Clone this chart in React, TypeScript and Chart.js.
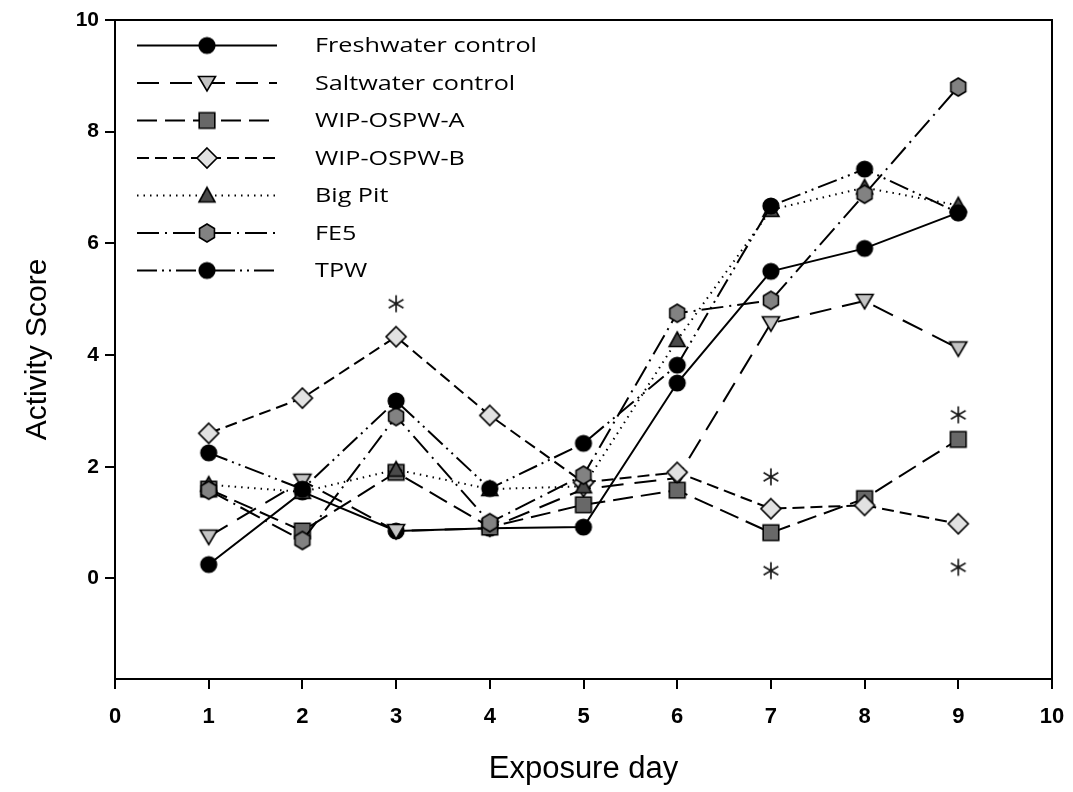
import React, { useEffect, useRef } from "react";
import { Chart, registerables } from "chart.js";

Chart.register(...registerables);

const days = [1, 2, 3, 4, 5, 6, 7, 8, 9];
const freshwater = [0.25, 1.55, 0.85, 0.9, 0.92, 3.5, 5.5, 5.91, 6.55];
const saltwater = [0.75, 1.75, 0.85, 0.9, 1.6, 1.8, 4.57, 4.97, 4.12];
const wipA = [1.6, 0.85, 1.9, 0.92, 1.32, 1.58, 0.82, 1.43, 2.49];
const wipB = [2.6, 3.23, 4.33, 2.92, 1.72, 1.9, 1.25, 1.31, 0.98];
const bigPit = [1.68, 1.55, 1.95, 1.6, 1.65, 4.27, 6.6, 7.0, 6.68];
const fe5 = [1.58, 0.68, 2.9, 1.0, 1.85, 4.75, 4.98, 6.88, 8.8];
const tpw = [2.25, 1.6, 3.18, 1.61, 2.42, 3.82, 6.67, 7.33, 6.55];

const seriesLabels = ["Freshwater control", "Saltwater control", "WIP-OSPW-A", "WIP-OSPW-B", "Big Pit", "FE5", "TPW"];

const asteriskDays = [3, 7, 7, 9, 9];
const asteriskValues = [4.92, 1.82, 0.14, 2.93, 0.2];

const xTicks = [0, 1, 2, 3, 4, 5, 6, 7, 8, 9, 10];
const yTicks = [0, 2, 4, 6, 8, 10];

function makeMarker(shape: string, fill: string): HTMLCanvasElement {
  const c = document.createElement("canvas");
  c.width = 24;
  c.height = 24;
  const ctx = c.getContext("2d")!;
  ctx.translate(12, 12);
  ctx.fillStyle = fill;
  ctx.strokeStyle = "#000";
  ctx.lineWidth = 1.6;
  ctx.lineJoin = "miter";
  ctx.beginPath();
  if (shape === "circle") {
    ctx.arc(0, 0, 7.8, 0, Math.PI * 2);
  } else if (shape === "triDown") {
    ctx.moveTo(-8.5, -6.5);
    ctx.lineTo(8.5, -6.5);
    ctx.lineTo(0, 8);
    ctx.closePath();
  } else if (shape === "triUp") {
    ctx.moveTo(-8, 6.5);
    ctx.lineTo(8, 6.5);
    ctx.lineTo(0, -8);
    ctx.closePath();
  } else if (shape === "square") {
    ctx.rect(-7.8, -7.8, 15.6, 15.6);
  } else if (shape === "diamond") {
    ctx.moveTo(0, -10);
    ctx.lineTo(10, 0);
    ctx.lineTo(0, 10);
    ctx.lineTo(-10, 0);
    ctx.closePath();
  } else if (shape === "hexagon") {
    for (let i = 0; i < 6; i++) {
      const a = -Math.PI / 2 + (i * Math.PI) / 3;
      const px = Math.cos(a) * 8.6;
      const py = Math.sin(a) * 9;
      if (i === 0) ctx.moveTo(px, py);
      else ctx.lineTo(px, py);
    }
    ctx.closePath();
  } else if (shape === "asterisk") {
    ctx.lineWidth = 1.7;
    ctx.strokeStyle = "#1a1a1a";
    for (let i = 0; i < 3; i++) {
      const a = -Math.PI / 2 + (i * Math.PI) / 3;
      ctx.moveTo(Math.cos(a) * 8.5, Math.sin(a) * 8.5);
      ctx.lineTo(-Math.cos(a) * 8.5, -Math.sin(a) * 8.5);
    }
    ctx.stroke();
    return c;
  }
  ctx.fill();
  ctx.stroke();
  return c;
}

const framePlugin = {
  id: "frame",
  beforeDatasetsDraw(chart: any) {
    const { ctx, chartArea } = chart;
    ctx.save();
    ctx.strokeStyle = "#000";
    ctx.lineWidth = 2;
    ctx.beginPath();
    ctx.moveTo(chartArea.left, chartArea.top);
    ctx.lineTo(chartArea.right, chartArea.top);
    ctx.lineTo(chartArea.right, chartArea.bottom);
    ctx.stroke();
    ctx.restore();
  },
};

const legendPlugin = {
  id: "customLegend",
  afterDatasetsDraw(chart: any) {
    const { ctx, chartArea } = chart;
    const x0 = chartArea.left + 22;
    const x1 = chartArea.left + 162;
    const xm = (x0 + x1) / 2;
    const xt = chartArea.left + 200;
    const yStart = chartArea.top + 25.5;
    const step = 37.5;
    ctx.save();
    chart.data.datasets.forEach((ds: any, i: number) => {
      if (!ds.inLegend) return;
      const y = yStart + i * step;
      ctx.strokeStyle = "#000";
      ctx.lineWidth = ds.borderWidth;
      ctx.setLineDash(ds.borderDash || []);
      ctx.beginPath();
      ctx.moveTo(x0, y);
      ctx.lineTo(x1, y);
      ctx.stroke();
      ctx.setLineDash([]);
      const img = ds.pointStyle as HTMLCanvasElement;
      ctx.drawImage(img, xm - img.width / 2, y - img.height / 2);
      ctx.fillStyle = "#000";
      ctx.font = "20px 'Open Sans'";
      ctx.textBaseline = "middle";
      ctx.textAlign = "left";
      ctx.save();
      ctx.translate(xt, y + 1);
      ctx.scale(1.26, 1);
      ctx.fillText(ds.label, 0, 0);
      ctx.restore();
    });
    ctx.restore();
  },
};

export default function App() {
  const ref = useRef<HTMLCanvasElement | null>(null);
  useEffect(() => {
    if (!ref.current) return;
    const seriesValues = [freshwater, saltwater, wipA, wipB, bigPit, fe5, tpw];
    const dashes = [[], [22, 11], [20, 8], [12, 6], [1.5, 5], [22, 6, 2, 6], [20, 5, 2, 5, 2, 5]];
    const markers = [
      makeMarker("circle", "#000"),
      makeMarker("triDown", "#c4c4c4"),
      makeMarker("square", "#686868"),
      makeMarker("diamond", "#e2e2e2"),
      makeMarker("triUp", "#4a4a4a"),
      makeMarker("hexagon", "#828282"),
      makeMarker("circle", "#000"),
    ];
    const datasets: any[] = seriesValues.map((vals, i) => ({
      type: "line",
      label: seriesLabels[i],
      data: days.map((d, j) => ({ x: d, y: vals[j] })),
      borderColor: "#000",
      borderWidth: 2,
      borderDash: dashes[i],
      pointStyle: markers[i],
      pointRadius: 8,
      pointHoverRadius: 8,
      fill: false,
      tension: 0,
      order: 10 - i,
      inLegend: true,
    }));
    datasets.push({
      type: "line",
      label: "significance",
      data: asteriskDays.map((d, j) => ({ x: d, y: asteriskValues[j] })),
      showLine: false,
      pointStyle: makeMarker("asterisk", "#222"),
      pointRadius: 8,
      order: 0,
      inLegend: false,
    });

    const chart = new Chart(ref.current, {
      type: "line",
      data: { datasets },
      options: {
        responsive: false,
        animation: false,
        layout: { padding: { top: 20, right: 21, left: 0, bottom: 0 } },
        plugins: { legend: { display: false }, tooltip: { enabled: false } },
        scales: {
          x: {
            type: "linear",
            min: 0,
            max: 10,
            afterBuildTicks: (s: any) => {
              s.ticks = xTicks.map((v) => ({ value: v }));
            },
            afterFit: (s: any) => {
              s.height = 113;
              s.paddingRight = 0;
              s.paddingLeft = 0;
            },
            grid: { drawOnChartArea: false, drawTicks: true, tickLength: 10, color: "#000", lineWidth: 2 },
            border: { display: true, color: "#000", width: 2 },
            ticks: {
              color: "#000",
              font: { family: "'Liberation Sans Narrow', 'Liberation Sans', Arial, sans-serif", size: 22, weight: "bold" },
              padding: 15,
              maxRotation: 0,
            },
            title: {
              display: true,
              text: "Exposure day",
              color: "#000",
              font: { family: "'Liberation Sans', Arial, sans-serif", size: 31 },
              padding: { top: 0, bottom: 4 },
            },
          },
          y: {
            type: "linear",
            min: -1.8,
            max: 10,
            afterBuildTicks: (s: any) => {
              s.ticks = yTicks.map((v) => ({ value: v }));
            },
            afterFit: (s: any) => {
              s.width = 115;
            },
            grid: { drawOnChartArea: false, drawTicks: true, tickLength: 10, color: "#000", lineWidth: 2 },
            border: { display: true, color: "#000", width: 2 },
            ticks: {
              color: "#000",
              font: { family: "'Liberation Sans', Arial, sans-serif", size: 21, weight: "bold" },
              padding: 6,
            },
            title: {
              display: true,
              text: "Activity Score",
              color: "#000",
              font: { family: "'Liberation Sans', Arial, sans-serif", size: 30 },
              padding: { top: 20, bottom: 0 },
            },
          },
        },
      },
      plugins: [framePlugin, legendPlugin],
    } as any);
    return () => chart.destroy();
  }, []);
  return (
    <div style={{ position: "fixed", left: 0, top: 0, background: "#fff" }}>
      <canvas ref={ref} width={1073} height={792} style={{ display: "block", width: 1073, height: 792 }} />
    </div>
  );
}
